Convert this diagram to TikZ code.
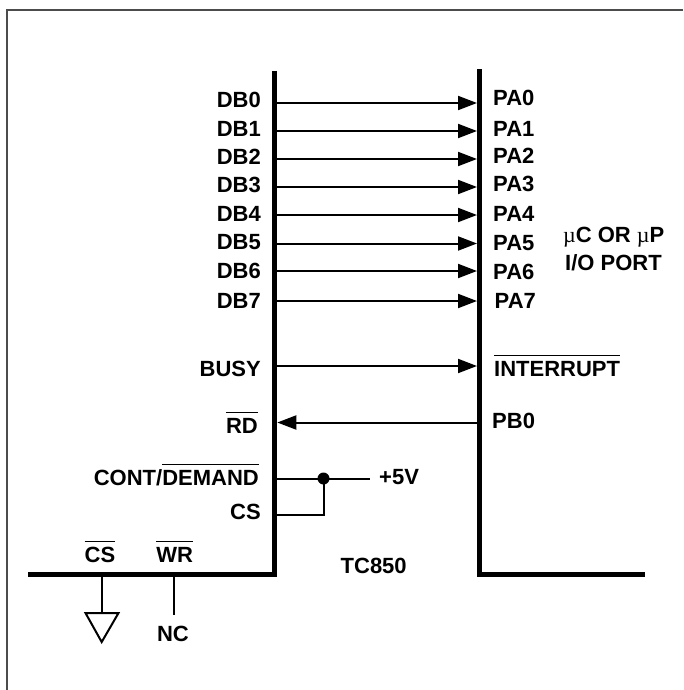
\documentclass[tikz,border=0pt]{standalone}
\usepackage{fontspec}
\setmainfont{Liberation Sans}
\newfontfamily\symf{Liberation Serif}
\usetikzlibrary{arrows.meta}
\newcommand{\ovl}[1]{\leavevmode\vbox{\hrule height 1.1pt \kern 4.6pt\hbox{#1}}}
\newcommand{\micro}{{\symf\mdseries\char"00B5}}
\tikzset{
  x=1pt,y=-1pt,
  frame/.style={draw=black!70,line width=1.7pt,line cap=butt},
  bus/.style={draw=black,line width=5.4pt,line cap=butt,line join=miter},
  wire/.style={draw=black,line width=2pt},
  sig/.style={-{Triangle[length=19pt,width=14pt]},wire},
  lab/.style={font=\bfseries\fontsize{22}{24}\selectfont,inner sep=0pt,text=black},
  ll/.style={lab,anchor=base east},
  rl/.style={lab,anchor=base west},
  cl/.style={lab,anchor=base},
}
\begin{document}
\begin{tikzpicture}
\useasboundingbox (0,0) rectangle (683,690);
\draw[frame] (6.7,690) -- (6.7,10) -- (683,10);
% buses
\coordinate (lt) at (274.5,71);
\coordinate (lb) at (274.5,574.7);
\coordinate (le) at (28,574.7);
\coordinate (rt) at (479.7,69.5);
\coordinate (rb) at (479.7,574.5);
\coordinate (re) at (644.5,574.5);
\draw[bus] (lt) -- (lb) -- (le);
\draw[bus] (rt) -- (rb) -- (re);
% data lines
\foreach \i/\y/\ty/\ry/\rx in {0/103/107/106/493,1/131/136/136/493,2/159/164/163/493,3/187/192/191/493,4/215/221/221/493,5/243.5/249/250/493,6/271/278/279/493,7/301/308/308/494.5}{
  \coordinate (a\i) at (277,\y);
  \coordinate (b\i) at (477,\y);
  \draw[sig] (a\i) -- (b\i);
  \node[ll] (db\i) at (261,\ty) {DB\i};
  \node[rl] (pa\i) at (\rx,\ry) {PA\i};
}
\coordinate (abusy) at (277,366);
\coordinate (bbusy) at (477,366);
\draw[sig] (abusy) -- (bbusy);
\node[ll] (busy) at (261,376) {BUSY};
\node[rl] (intr) at (494,376) {\ovl{INTERRUPT}};
\coordinate (ard) at (277.3,422.5);
\coordinate (brd) at (477,422.5);
\draw[sig] (brd) -- (ard);
\node[ll] (rd) at (258,433) {\ovl{RD}};
\node[rl] (pb0) at (492,428) {PB0};
% +5V
\coordinate (cont) at (277,478.5);
\coordinate (csp) at (277,514.7);
\coordinate (j) at (323.5,478.5);
\coordinate (v) at (370,478.5);
\draw[wire] (cont) -- (j) -- (v);
\draw[wire,line join=miter] (csp) -| (j);
\fill (j) circle (6);
\node[ll] (cd) at (259,485) {CONT/\ovl{DEMAND}};
\node[ll] (cs) at (261,519) {CS};
\node[rl] (v5) at (379,484) {+5V};
\node[cl] (tc) at (373.7,573) {TC850};
\node[rl] (io1) at (563,242.5) {\micro C OR \micro P};
\node[rl] (io2) at (565,270) {I/O PORT};
% bottom
\coordinate (g0) at (101.7,577);
\coordinate (g1) at (101.7,613);
\coordinate (w0) at (174,577);
\coordinate (w1) at (174,615);
\draw[wire] (g0) -- (g1);
\draw[wire] (w0) -- (w1);
\draw[wire,line join=miter] (85.5,613) -- (118.5,613) -- (101.7,642) -- cycle;
\node[cl] (ncs) at (100,562) {\ovl{CS}};
\node[cl] (nwr) at (174.7,562) {\ovl{WR}};
\node[cl] (nc) at (173,641) {NC};
\end{tikzpicture}
\end{document}
